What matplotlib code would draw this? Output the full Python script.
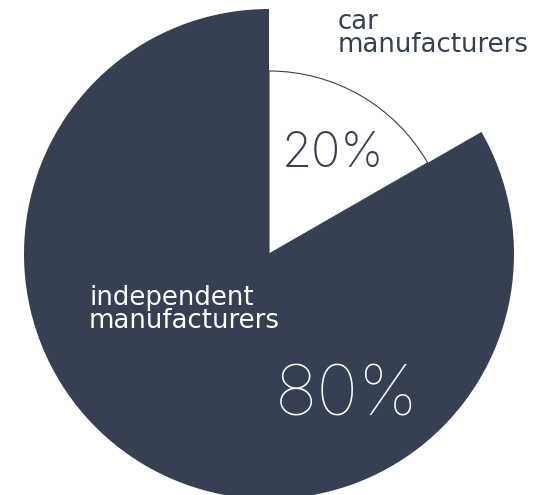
import matplotlib
matplotlib.use("Agg")
import matplotlib.pyplot as plt

# data
categories = ["car\nmanufacturers", "independent\nmanufacturers"]
slice_values = [16.7, 83.3]          # angular share as drawn in the picture
pct_labels = ["20%", "80%"]

DARK = "#364052"

W, H = 533, 495
CX, CY = 269, 254   # pie centre in pixels from top-left
R_OUT = 245
R_IN = 183

fig = plt.figure(figsize=(W / 100, H / 100), dpi=100)
ax = fig.add_axes([0, 0, 1, 1])
ax.set_xlim(-CX, W - CX)
ax.set_ylim(-(H - CY), CY)
ax.set_aspect("equal")
ax.axis("off")

# large dark slice
w1, _ = ax.pie(slice_values, radius=R_OUT, startangle=90, counterclock=False,
               colors=["none", DARK], wedgeprops=dict(linewidth=0))
w1[0].set_visible(False)
# smaller white slice with thin outline
w2, _ = ax.pie(slice_values, radius=R_IN, startangle=90, counterclock=False,
               colors=["white", "none"],
               wedgeprops=dict(linewidth=0.8, edgecolor=DARK))
w2[1].set_visible(False)
w1[1].set_zorder(3)
ax.set_xlim(-CX, W - CX)
ax.set_ylim(-(H - CY), CY)


def px(x, y):
    return x - CX, CY - y


LBL = dict(family=["DejaVu Sans"], weight=400, fontsize=18.7,
           ha="left", va="baseline", linespacing=0.84, zorder=5)
PCT = dict(family=["Inter", "DejaVu Sans"], ha="left",
           va="baseline", zorder=5)

ax.text(*px(338, 52), categories[0], color=DARK, **LBL)
ax.text(*px(89, 328), categories[1], color="white", **LBL)

ax.text(*px(282, 167), pct_labels[0], color=DARK, fontsize=35, weight=200, **PCT)
ax.text(*px(275, 415), pct_labels[1], color="white", fontsize=51, weight=100, **PCT)

fig.savefig("out.png", dpi=100, facecolor="white")
